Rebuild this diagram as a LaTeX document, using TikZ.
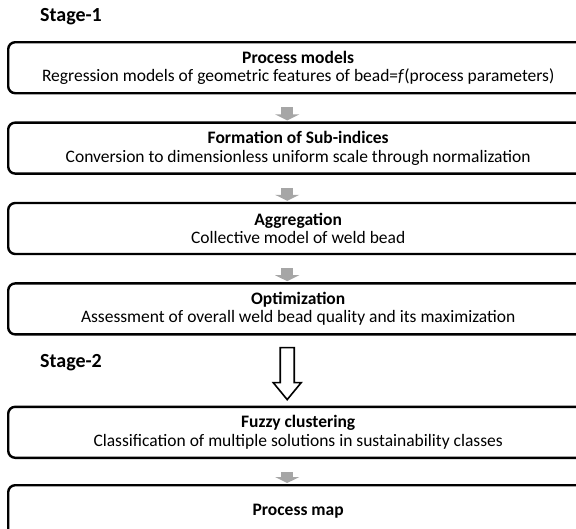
\documentclass[tikz,border=0pt]{standalone}
\usepackage{fontspec}
\setmainfont{Carlito}
\usepackage{tikz}
\usetikzlibrary{arrows.meta, positioning, calc}
\definecolor{arrowgray}{RGB}{166,166,166}

\begin{document}
\begin{tikzpicture}[x=1pt, y=1pt,
  box/.style={draw, line width=2.4pt, rounded corners=7pt, minimum width=580pt, minimum height=51pt, align=center, font=\fontsize{17.5}{18.5}\selectfont, inner sep=0pt},
  stage/.style={font=\fontsize{20}{22}\selectfont\bfseries, anchor=west, inner sep=0pt},
  grayarr/.style={draw=arrowgray, line width=12pt, -{Triangle[width=24pt, length=6pt]}, shorten <=13pt, shorten >=1pt},
  hollowarr/.style={draw, line width=1.6pt, fill=white, line join=miter},
]
\useasboundingbox (0,0) rectangle (576,-528);
\clip (0,0) rectangle (576,-528);
% Stage 1
\node[stage] (s1) at (40,-17) {Stage-1};
\node[box, anchor=north west] (b1) at (7,-41) {\textbf{Process models}\\Regression models of geometric features of bead=\textit{f}(process parameters)};
\node[box, below=27pt of b1] (b2) {\textbf{Formation of Sub-indices}\\Conversion to dimensionless uniform scale through normalization};
\node[box, below=27pt of b2] (b3) {\textbf{Aggregation}\\Collective model of weld bead};
\node[box, below=27pt of b3] (b4) {\textbf{Optimization}\\Assessment of overall weld bead quality and its maximization};
% Stage 2
\node[stage] (s2) at (40,-363) {Stage-2};
\node[box, below=70pt of b4] (b5) {\textbf{Fuzzy clustering}\\Classification of multiple solutions in sustainability classes};
\node[box, below=25pt of b5] (b6) {\textbf{Process map}};

% Gray arrows between steps
\draw[grayarr] ([xshift=-11pt]b1.south) -- ([xshift=-11pt]b2.north);
\draw[grayarr] ([xshift=-11pt]b2.south) -- ([xshift=-11pt]b3.north);
\draw[grayarr] ([xshift=-11pt]b3.south) -- ([xshift=-11pt]b4.north);
\draw[grayarr] ([xshift=-11pt]b5.south) -- ([xshift=-11pt]b6.north);
% Hollow arrow from stage 1 to stage 2
\coordinate (tip) at ([xshift=-11pt, yshift=6pt]b5.north);
\draw[hollowarr] (tip) -- ++(-14,17) -- ++(7,0) -- ([xshift=-18pt, yshift=-12pt]b4.south)
  -- ++(14,0) -- ([xshift=7pt, yshift=17pt]tip) -- ++(7,0) -- cycle;
\end{tikzpicture}
\end{document}
